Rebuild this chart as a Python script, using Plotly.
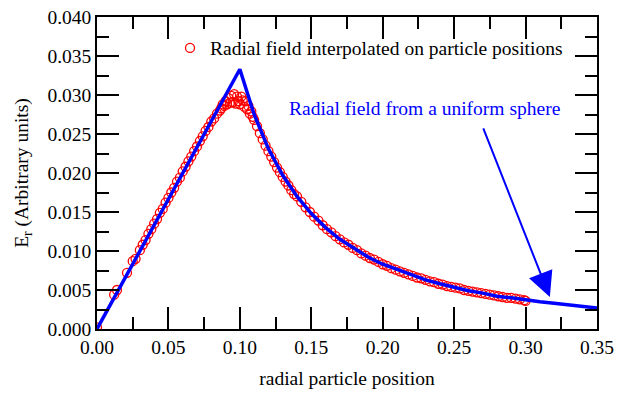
import plotly.graph_objects as go

# Analytic reference curve
sphere_r = [0.000, 0.100, 0.110, 0.120, 0.130, 0.140, 0.150, 0.160, 0.170, 0.180,
            0.190, 0.200, 0.210, 0.220, 0.230, 0.240, 0.250, 0.260, 0.270, 0.280,
            0.290, 0.300, 0.310, 0.320, 0.330, 0.340, 0.350]
sphere_E = [0.0000, 0.0333, 0.0275, 0.0231, 0.0197, 0.0170, 0.0148, 0.0130, 0.0115, 0.0103,
            0.0092, 0.0083, 0.0076, 0.0069, 0.0063, 0.0058, 0.0053, 0.0049, 0.0046, 0.0042,
            0.0040, 0.0037, 0.0035, 0.0033, 0.0031, 0.0029, 0.0027]

# Interpolated field on particle positions
particle_r = [
    0.000, 0.012, 0.014, 0.021, 0.025, 0.027,
    0.030, 0.032, 0.034, 0.036, 0.038, 0.040, 0.042, 0.044, 0.046, 0.048,
    0.050, 0.052, 0.054, 0.056, 0.058, 0.060, 0.062, 0.064, 0.066, 0.068,
    0.070, 0.072, 0.074, 0.076, 0.078, 0.080, 0.082, 0.084,
    0.086, 0.087, 0.088, 0.089, 0.090, 0.091, 0.092, 0.093, 0.094, 0.095,
    0.096, 0.097, 0.098, 0.099, 0.100, 0.101, 0.102, 0.103, 0.104, 0.105,
    0.106, 0.107, 0.108, 0.109,
    0.110, 0.112, 0.114, 0.116, 0.118, 0.120, 0.122, 0.124, 0.126, 0.128,
    0.130, 0.132, 0.134, 0.136, 0.138,
    0.140, 0.143, 0.146, 0.149, 0.152, 0.155, 0.158, 0.161, 0.164, 0.167,
    0.170, 0.173, 0.176, 0.179, 0.182, 0.185, 0.188, 0.191, 0.194, 0.197,
    0.200, 0.203, 0.206, 0.209, 0.212, 0.215, 0.218, 0.221, 0.224, 0.227,
    0.230, 0.233, 0.236, 0.239, 0.242, 0.245, 0.248, 0.251, 0.254, 0.257,
    0.260, 0.263, 0.266, 0.269, 0.272, 0.275, 0.278, 0.281, 0.284, 0.287,
    0.290, 0.293, 0.296, 0.299, 0.300,
]
particle_E = [
    0.0002, 0.0044, 0.0050, 0.0072, 0.0087, 0.0090,
    0.0101, 0.0108, 0.0114, 0.0122, 0.0128, 0.0135, 0.0141, 0.0149, 0.0154, 0.0162,
    0.0168, 0.0175, 0.0181, 0.0189, 0.0194, 0.0202, 0.0208, 0.0215, 0.0221, 0.0228,
    0.0234, 0.0241, 0.0247, 0.0254, 0.0259, 0.0266, 0.0270, 0.0276,
    0.0280, 0.0283, 0.0288, 0.0286, 0.0292, 0.0288, 0.0296, 0.0290, 0.0299, 0.0291,
    0.0301, 0.0289, 0.0298, 0.0292, 0.0288, 0.0298, 0.0293, 0.0285, 0.0292, 0.0282,
    0.0286, 0.0276, 0.0279, 0.0272,
    0.0268, 0.0260, 0.0251, 0.0243, 0.0235, 0.0228, 0.0221, 0.0214, 0.0207, 0.0201,
    0.0195, 0.0189, 0.0184, 0.0178, 0.0173,
    0.0170, 0.0163, 0.0156, 0.0150, 0.0144, 0.0139, 0.0133, 0.0128, 0.0124, 0.0119,
    0.0115, 0.0111, 0.0108, 0.0104, 0.0101, 0.0097, 0.0094, 0.0091, 0.0089, 0.0086,
    0.0083, 0.0081, 0.0078, 0.0076, 0.0074, 0.0072, 0.0070, 0.0068, 0.0066, 0.0065,
    0.0063, 0.0061, 0.0060, 0.0058, 0.0057, 0.0055, 0.0054, 0.0053, 0.0052, 0.0050,
    0.0049, 0.0048, 0.0047, 0.0046, 0.0045, 0.0044, 0.0043, 0.0042, 0.0041, 0.0040,
    0.0040, 0.0039, 0.0038, 0.0037, 0.0036,
]

x_ticks = [0.00, 0.05, 0.10, 0.15, 0.20, 0.25, 0.30, 0.35]
y_ticks = [0.000, 0.005, 0.010, 0.015, 0.020, 0.025, 0.030, 0.035, 0.040]

FONT = "Liberation Serif"
FS = 19.5

fig = go.Figure()
fig.add_trace(go.Scatter(
    x=particle_r, y=particle_E, mode="markers",
    name="Radial field interpolated on particle positions",
    marker=dict(symbol="circle-open", size=9, color="#ff0000", line=dict(width=1.3, color="#ff0000")),
))
fig.add_trace(go.Scatter(
    x=sphere_r, y=sphere_E, mode="lines", showlegend=False,
    line=dict(color="#0000ff", width=3.5),
))

axis_common = dict(
    showline=True, linecolor="black", linewidth=1.5, mirror="allticks",
    ticks="inside", ticklen=22, tickwidth=1.5, tickcolor="black",
    showgrid=False, zeroline=False, automargin=False,
    tickfont=dict(family=FONT, size=FS, color="black"),
)
fig.update_xaxes(
    range=[0, 0.35], tickvals=x_ticks, ticktext=[f"{v:.2f}" for v in x_ticks],
    minor=dict(dtick=0.025, ticklen=12, tickwidth=1.5, tickcolor="black", ticks="inside", showgrid=False),
    title=dict(text="radial particle position", font=dict(family=FONT, size=FS, color="black"), standoff=14),
    **axis_common,
)
fig.update_yaxes(
    range=[0, 0.04], tickvals=y_ticks, ticktext=[f"{v:.3f}" for v in y_ticks],
    minor=dict(dtick=0.0025, ticklen=12, tickwidth=1.5, tickcolor="black", ticks="inside", showgrid=False),
    title=dict(text="E<sub>r</sub> (Arbitrary units)", font=dict(family=FONT, size=FS, color="black"), standoff=14),
    **axis_common,
)

fig.add_annotation(
    x=0.2293, y=0.0283, xref="x", yref="y", showarrow=False,
    text="Radial field from a uniform sphere",
    font=dict(family=FONT, size=FS, color="#0000ff"),
)
fig.add_annotation(
    x=0.317, y=0.0041, ax=0.270, ay=0.0259, xref="x", yref="y", axref="x", ayref="y",
    text="", showarrow=True, arrowhead=2, arrowsize=2.5, arrowwidth=2, arrowcolor="#0000ff",
)

fig.update_layout(
    width=628, height=394,
    margin=dict(l=97, r=31, t=17, b=65),
    paper_bgcolor="white", plot_bgcolor="white",
    font=dict(family=FONT, size=FS, color="black"),
    legend=dict(x=0.146, y=0.90, xanchor="left", yanchor="middle", bgcolor="rgba(0,0,0,0)",
                font=dict(family=FONT, size=FS, color="black"), itemwidth=30),
)

fig.write_html("out.html", config={"displayModeBar": False},
               post_script="document.body.style.margin='0';document.body.style.overflow='hidden';")
